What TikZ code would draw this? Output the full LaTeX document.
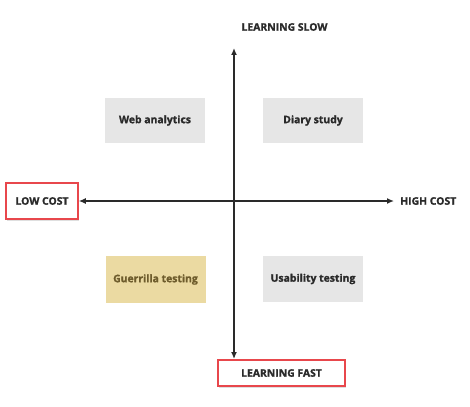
\documentclass[tikz,border=0pt]{standalone}
\usepackage{fontspec}
\setmainfont{Open Sans}[BoldFeatures={FakeBold=1.2}]
\usetikzlibrary{arrows.meta,shadows}
\definecolor{boxgray}{HTML}{E6E6E6}
\definecolor{gold}{HTML}{EBDAA2}
\definecolor{goldtext}{HTML}{6E5C2C}
\definecolor{redline}{HTML}{E8474C}
\definecolor{ink}{HTML}{2A2A2A}
\begin{document}
\begin{tikzpicture}[x=1pt,y=-1pt,
  lbl/.style={font=\bfseries\fontsize{10.4}{12}\selectfont, text=ink},
  quad/.style={lbl, fill=boxgray, minimum width=100pt, minimum height=45pt, inner sep=0pt},
  redbox/.style={lbl, draw=redline, line width=1.6pt, fill=white, inner sep=0pt,
    drop shadow={shadow xshift=1pt, shadow yshift=-1.5pt, opacity=0.25}},
  axis/.style={draw=ink, line width=1.3pt, -{Latex[length=7pt,width=6pt]}}
]
\useasboundingbox (0,0) rectangle (470,406);
\node[redbox, minimum width=72pt, minimum height=36pt] (low) at (42,201) {LOW COST};
\node[redbox, minimum width=127pt, minimum height=26pt] (fast) at (281.5,373) {LEARNING FAST};
\node[lbl, anchor=west, inner sep=0pt] (high) at (400,201) {HIGH COST};
\node[lbl, inner sep=0pt] (slow) at (284.5,27) {LEARNING SLOW};
\coordinate (top) at (234,48);
\coordinate (bot) at (234,359);
\coordinate (ctr) at (234,201);
\coordinate (rgt) at (394,201);
\draw[axis] (ctr) -- (top);
\draw[axis] (ctr) -- (bot);
\draw[axis] (ctr) -- (low.east);
\draw[axis] (ctr) -- (rgt);
\node[quad] (web) at (155,120.5) {Web analytics};
\node[quad] (diary) at (313,120.5) {Diary study};
\node[quad, fill=gold, text=goldtext, minimum height=47pt] (guer) at (155.5,279.5) {Guerrilla testing};
\node[quad, minimum height=46pt] (usab) at (313,279) {Usability testing};
\end{tikzpicture}
\end{document}
